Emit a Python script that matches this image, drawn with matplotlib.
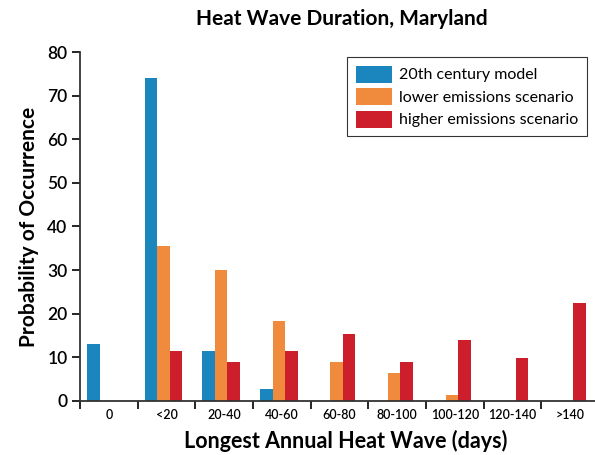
import numpy as np
import matplotlib.pyplot as plt

plt.rcParams['font.family'] = ['Lato', 'DejaVu Sans']

categories = ['0', '<20', '20-40', '40-60', '60-80', '80-100', '100-120', '120-140', '>140']
model_20th = [13, 74, 11.4, 2.8, 0, 0, 0, 0, 0]
lower_em = [0, 35.5, 30, 18.4, 8.9, 6.5, 1.3, 0, 0]
higher_em = [0, 11.4, 8.9, 11.4, 15.4, 8.9, 13.9, 9.9, 22.4]

colors = ['#1a86bd', '#f08a3c', '#cd1f2b']
labels = ['20th century model', 'lower emissions scenario', 'higher emissions scenario']

fig = plt.figure(figsize=(5.95, 4.55), dpi=100)
ax = fig.add_axes([0.1345, 0.119, 0.8655, 0.7667])

x = np.arange(len(categories))
w = 0.218
for k, (vals, c, lab) in enumerate(zip([model_20th, lower_em, higher_em], colors, labels)):
    ax.bar(x - 0.27 + k * w, vals, width=w, color=c, label=lab)

ax.set_xlim(-0.5, 8.43)
ax.set_ylim(0, 80)
ax.set_yticks(range(0, 81, 10))
ax.set_xticks(x)
ax.set_xticklabels(categories, fontsize=9)
ax.set_xticks(np.arange(-0.5, 8.5, 1), minor=True)
ax.tick_params(axis='x', which='major', length=0, pad=6)
ax.tick_params(axis='x', which='minor', length=6, width=1.2, direction='out')
ax.tick_params(axis='y', length=6, width=1.2, labelsize=12.5, pad=3)
for lab in ax.get_yticklabels() + ax.get_xticklabels():
    lab.set_fontweight('semibold')
for s in ['top', 'right']:
    ax.spines[s].set_visible(False)
for s in ['left', 'bottom']:
    ax.spines[s].set_linewidth(1.3)
    ax.spines[s].set_color('#333333')

ax.set_ylabel('Probability of Occurrence', fontsize=15, fontweight='bold', labelpad=6)
ax.set_xlabel('Longest Annual Heat Wave (days)', fontsize=15.5, fontweight='bold', labelpad=6)
ax.xaxis.label.set_x(0.516)
fig.text(0.575, 0.958, 'Heat Wave Duration, Maryland', ha='center', va='center',
         fontsize=15, fontweight='bold')

leg = ax.legend(loc='upper right', bbox_to_anchor=(0.984, 0.986), borderaxespad=0,
                fontsize=11.5, fancybox=False, edgecolor='black', handlelength=2.3,
                handleheight=1.25, handletextpad=0.4, labelspacing=0.35, borderpad=0.55)
leg.get_frame().set_linewidth(0.8)

fig.savefig('out.png', dpi=100)
